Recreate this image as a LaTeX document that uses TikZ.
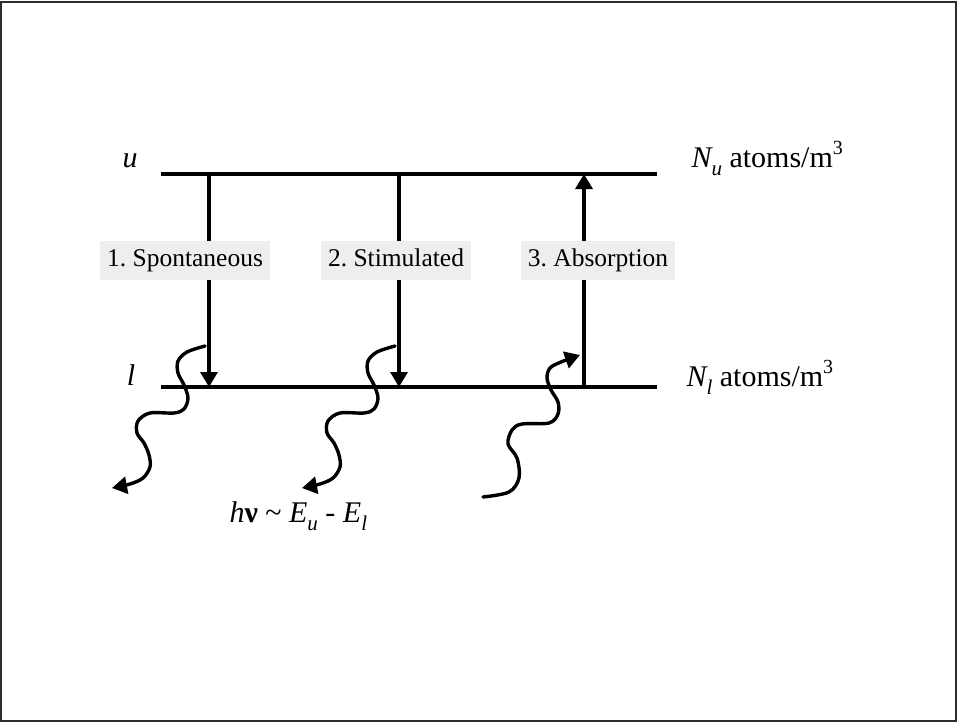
\documentclass[tikz,border=0pt]{standalone}
\usepackage{fontspec}
\setmainfont{Liberation Serif}
\usetikzlibrary{arrows.meta,positioning}
\definecolor{LabelGray}{RGB}{238,238,238}
\definecolor{FrameGray}{RGB}{45,45,45}
\newcommand{\lowsub}[1]{\raisebox{-0.28em}{\fontsize{21}{24}\selectfont\itshape #1}}
\newcommand{\cubed}{\raisebox{0.42em}{\fontsize{20}{24}\selectfont 3}}
\frenchspacing

\begin{document}
\begin{tikzpicture}[x=1pt,y=-1pt,>={Triangle[length=15pt,width=17pt]},
    level/.style={line width=3.6pt},
    trans/.style={line width=3.2pt,->},
    wave/.style={line width=3.4pt,->,line cap=round,line join=round},
    procbox/.style={fill=LabelGray,inner xsep=7pt,inner ysep=8pt,
      text height=18pt,text depth=5pt,font=\fontsize{25.5}{29}\selectfont},
    big/.style={font=\fontsize{30}{36}\selectfont}]
  \useasboundingbox (0,0) rectangle (957,723);
  \draw[FrameGray,line width=2pt] (1,2) rectangle (956,721);
  % levels u and l
  \coordinate (uL) at (161,174); \coordinate (uR) at (657,174);
  \coordinate (lL) at (161,387); \coordinate (lR) at (657,387);
  \draw[level] (uL) -- (uR);
  \draw[level] (lL) -- (lR);
  \node[big,anchor=base] (ulab) at (130,167) {\itshape u};
  \node[big,anchor=base] (llab) at (131,385) {\itshape l};
  \node[big,anchor=base west] (Nu) at (688,167)
    {{\itshape N}\lowsub{u} atoms/m\cubed};
  \node[big,anchor=base west] (Nl) at (683,386)
    {{\itshape N}\lowsub{l} atoms/m\cubed};
  % transitions
  \coordinate (sp-u) at (209,174); \coordinate (sp-l) at (209,387);
  \coordinate (st-u) at (399,174); \coordinate (st-l) at (399,387);
  \coordinate (ab-u) at (584,174); \coordinate (ab-l) at (584,387);
  \draw[trans] (sp-u) -- (sp-l);
  \draw[trans] (st-u) -- (st-l);
  \draw[trans] (ab-l) -- (ab-u);
  \node[procbox] (spont) at (185,260) {1. Spontaneous};
  \node[procbox] (stim)  at (396,260) {2. Stimulated};
  \node[procbox] (absorb) at (598,260) {3. Absorption};
  % photons
  \foreach \dx in {0,190}
    \draw[wave,xshift=\dx] plot[smooth,tension=0.55] coordinates {
      (205,346) (187,352) (178,361) (178,373) (184,385) (188,398) (184,409)
      (174,413) (150,413) (138,421) (137,433) (144,443) (149,455) (150,467)
      (143,478) (130,484) (112,488)};
  \draw[wave] plot[smooth,tension=0.55] coordinates {
      (483,497) (509,492) (519,478) (517,458) (508,444) (512,430) (522,424)
      (549,423) (558,414) (558,402) (551,390) (547,378) (550,368) (561,362)
      (580,355)};
  \node[big,anchor=base west] (hnu) at (226,522)
    {{\itshape h}\textbf{ν} \textasciitilde{} {\itshape E}\lowsub{u}
     - {\itshape E}\lowsub{l}};
\end{tikzpicture}
\end{document}
